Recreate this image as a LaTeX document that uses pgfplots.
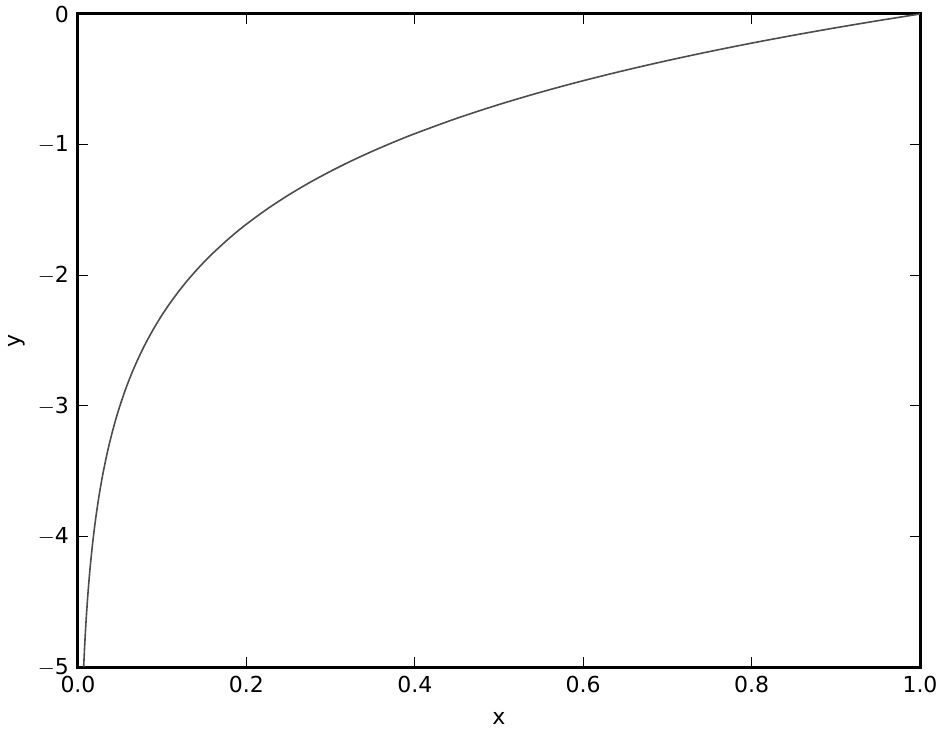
\documentclass[border=0pt]{standalone}
\usepackage{pgfplots}
\pgfplotsset{compat=1.18}
\usepackage{fontspec}
\setmainfont{DejaVu Sans}
\definecolor{curve}{HTML}{4D4D4D}
\begin{document}
\begin{tikzpicture}
\useasboundingbox (-39pt,-34pt) rectangle (432.5pt,333.5pt);
\begin{axis}[
  at={(0,0)}, anchor=south west,
  scale only axis, width=421pt, height=326.5pt,
  xmin=0, xmax=1, ymin=-5, ymax=0,
  xtick={0,0.2,0.4,0.6,0.8,1.0},
  xticklabels={0.0,0.2,0.4,0.6,0.8,1.0},
  ytick={-5,-4,-3,-2,-1,0},
  yticklabels={$-$5,$-$4,$-$3,$-$2,$-$1,0},
  tick align=inside, major tick length=5pt,
  tick style={black, line width=0.5pt},
  axis line style={line width=1.5pt},
  ticklabel style={font=\fontsize{11}{13}\selectfont},
  label style={font=\fontsize{11}{13}\selectfont},
  xlabel={x}, ylabel={y},
  xlabel style={at={(axis description cs:0.5,0)}, anchor=north, yshift=-19pt},
  ylabel style={at={(axis description cs:-0.0724,0.5)}, anchor=center},
  xticklabel style={yshift=-1pt},
  yticklabel style={xshift=-1pt},
  clip=true,
]
\addplot[color=curve, line width=0.8pt, smooth] coordinates {
(0.006738,-5) (0.007,-4.9618) (0.0075,-4.8928) (0.008,-4.8283) (0.009,-4.7105) (0.01,-4.6052)
(0.011,-4.5099) (0.012,-4.4228) (0.0135,-4.3050) (0.015,-4.1997) (0.0175,-4.0456) (0.02,-3.9120) (0.0225,-3.7942) (0.025,-3.6889)
(0.0275,-3.5936) (0.03,-3.5066) (0.035,-3.3524) (0.04,-3.2189) (0.045,-3.1011) (0.05,-2.9957) (0.055,-2.9004) (0.06,-2.8134)
(0.065,-2.7334) (0.07,-2.6593) (0.075,-2.5903) (0.08,-2.5257) (0.09,-2.4079) (0.1,-2.3026) (0.11,-2.2073) (0.12,-2.1203)
(0.13,-2.0402) (0.14,-1.9661) (0.15,-1.8971) (0.16,-1.8326) (0.18,-1.7148) (0.2,-1.6094) (0.225,-1.4917)
(0.25,-1.3863) (0.275,-1.2910) (0.3,-1.2040) (0.325,-1.1239) (0.35,-1.0498) (0.375,-0.9808) (0.4,-0.9163)
(0.45,-0.7985) (0.5,-0.6931) (0.55,-0.5978) (0.6,-0.5108) (0.65,-0.4308)
(0.7,-0.3567) (0.75,-0.2877) (0.8,-0.2231) (0.85,-0.1625) (0.9,-0.1054)
(0.95,-0.0513) (1.0,0)
};
\end{axis}
\end{tikzpicture}
\end{document}
